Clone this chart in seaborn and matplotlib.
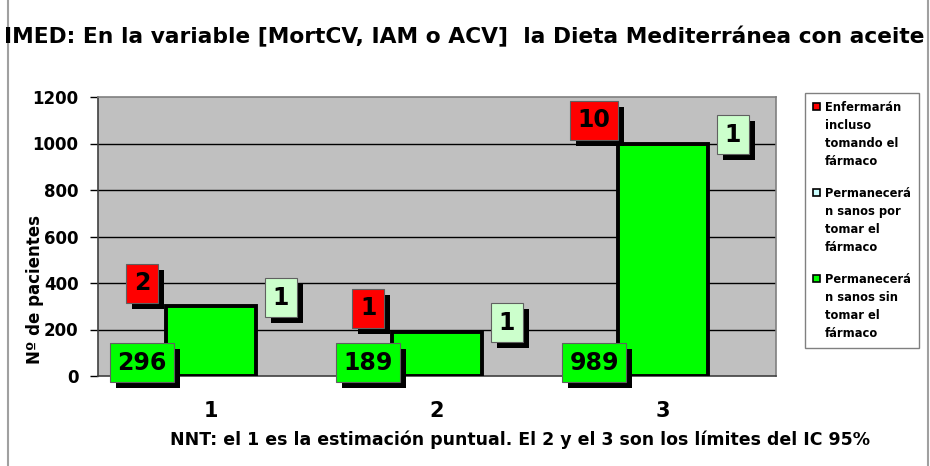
import matplotlib
matplotlib.use("Agg")
import matplotlib.pyplot as plt
import matplotlib.patheffects as pe
from matplotlib.patches import Patch, Rectangle
from matplotlib.legend_handler import HandlerPatch
import seaborn as sns

# datos
categorias = ["1", "2", "3"]
sanos_sin_farmaco = [296, 189, 989]
enfermaran = [2, 1, 10]
sanos_por_farmaco = [1, 1, 1]
yticks = [0, 200, 400, 600, 800, 1000, 1200]

verde = "#00FF00"
rojo = "#FF0000"
claro = "#CCFFCC"

sns.set_style("white")
plt.rcParams["font.family"] = ["DejaVu Sans"]
plt.rcParams["font.weight"] = "bold"
plt.rcParams["text.color"] = "black"
plt.rcParams["xtick.color"] = "black"
plt.rcParams["ytick.color"] = "black"

fig = plt.figure(figsize=(9.3, 4.66), dpi=100)
ax = fig.add_axes([98 / 930, 1 - 376 / 466, 678 / 930, 279 / 466])
ax.set_facecolor("#C0C0C0")

# apilado: se dibuja desde el total hacia abajo
rojo_mas_verde = [a + b for a, b in zip(sanos_sin_farmaco, enfermaran)]
totales = [a + b for a, b in zip(rojo_mas_verde, sanos_por_farmaco)]

sns.barplot(x=categorias, y=totales, color=claro, width=0.4, errorbar=None,
            linewidth=0, saturation=1, ax=ax, zorder=3)
sns.barplot(x=categorias, y=rojo_mas_verde, color=rojo, width=0.4, errorbar=None,
            linewidth=0, saturation=1, ax=ax, zorder=3)
sns.barplot(x=categorias, y=sanos_sin_farmaco, color=verde, width=0.4, errorbar=None,
            linewidth=0, saturation=1, ax=ax, zorder=3)
sns.barplot(x=categorias, y=totales, color="black", fill=False, width=0.4,
            errorbar=None, linewidth=2.8, ax=ax, zorder=4)

ax.set_ylim(0, 1200)
ax.set_xlim(-0.5, 2.5)
ax.set_yticks(yticks)
ax.set_yticklabels([str(v) for v in yticks], fontsize=12, fontweight="bold")
ax.set_xticks([0, 1, 2])
ax.set_xticklabels(categorias, fontsize=15, fontweight="bold")
ax.set_xticks([-0.5, 0.5, 1.5, 2.5], minor=True)
ax.tick_params(axis="x", which="major", length=0, pad=18)
ax.tick_params(axis="x", which="minor", length=6, width=1, color="black", direction="out")
ax.tick_params(axis="y", length=6, width=1, color="black", direction="out", pad=8, left=True)
ax.set_xlabel("")
ax.set_ylabel("")

for y in yticks[1:-1]:
    ax.axhline(y, color="black", linewidth=1, zorder=1)

ax.spines["left"].set_color("#404040")
ax.spines["bottom"].set_color("#404040")
ax.spines["top"].set_color("#808080")
ax.spines["right"].set_color("#808080")
for s in ax.spines.values():
    s.set_visible(True)
    s.set_linewidth(1.2)

sombra = [pe.SimplePatchShadow(offset=(4.3, -4.3), shadow_rgbFace="black", alpha=1),
          pe.Normal()]


def etiqueta(x, y, texto, fondo):
    t = ax.text(x, y, texto, ha="center", va="center", fontsize=17, fontweight="bold",
                color="black", zorder=7,
                bbox=dict(boxstyle="square,pad=0.32", fc=fondo, ec="#606060", lw=0.8))
    t.get_bbox_patch().set_path_effects(sombra)


for i in range(len(categorias)):
    etiqueta(i - 0.305, 58, str(sanos_sin_farmaco[i]), verde)
    etiqueta(i - 0.305, totales[i] + 100, str(enfermaran[i]), rojo)
    etiqueta(i + 0.31, totales[i] + 38, str(sanos_por_farmaco[i]), claro)


class CuadroArriba(HandlerPatch):
    # cuadro pequeno alineado con la primera linea del texto
    def create_artists(self, legend, orig_handle, xdescent, ydescent, width, height,
                       fontsize, trans):
        lado = 0.62 * fontsize
        r = Rectangle((-xdescent, -ydescent + height / 2 - lado / 2 + 21), lado, lado,
                      facecolor=orig_handle.get_facecolor(), edgecolor="black",
                      linewidth=1.2, transform=trans)
        return [r]


handles = [Patch(facecolor=rojo), Patch(facecolor="#CCFFFF"), Patch(facecolor=verde)]
nombres = ["Enfermarán\nincluso\ntomando el\nfármaco",
           "Permanecerá\nn sanos por\ntomar el\nfármaco",
           "Permanecerá\nn sanos sin\ntomar el\nfármaco"]
leg = fig.legend(handles, nombres, loc="upper left",
                 bbox_to_anchor=(805 / 930, 1 - 93 / 466),
                 fancybox=False, edgecolor="#808080", framealpha=1,
                 prop={"size": 8.3, "weight": "bold"},
                 handlelength=0.7, handleheight=0.7, handletextpad=0.3,
                 labelspacing=1.65, borderpad=0.7, borderaxespad=0,
                 handler_map={Patch: CuadroArriba()})
for t in leg.get_texts():
    t.set_linespacing(1.5)

fig.text(4 / 930, 1 - 37 / 466,
         "IMED: En la variable [MortCV, IAM o ACV]  la Dieta Mediterránea con aceite",
         ha="left", va="center", fontsize=15.7, fontweight="bold")
fig.text(35 / 930, 1 - 290 / 466, "Nº de pacientes", rotation=90,
         ha="center", va="center", fontsize=12, fontweight="bold")
fig.text(520 / 930, 1 - 440 / 466,
         "NNT: el 1 es la estimación puntual. El 2 y el 3 son los límites del IC 95%",
         ha="center", va="center", fontsize=12.5, fontweight="bold")

# marco gris del grafico
fig.patches.append(Rectangle((8 / 930, -0.01), 920 / 930, 1.02, transform=fig.transFigure,
                             fill=False, edgecolor="#A0A0A0", linewidth=1.5))

fig.savefig("out.png", dpi=100)
